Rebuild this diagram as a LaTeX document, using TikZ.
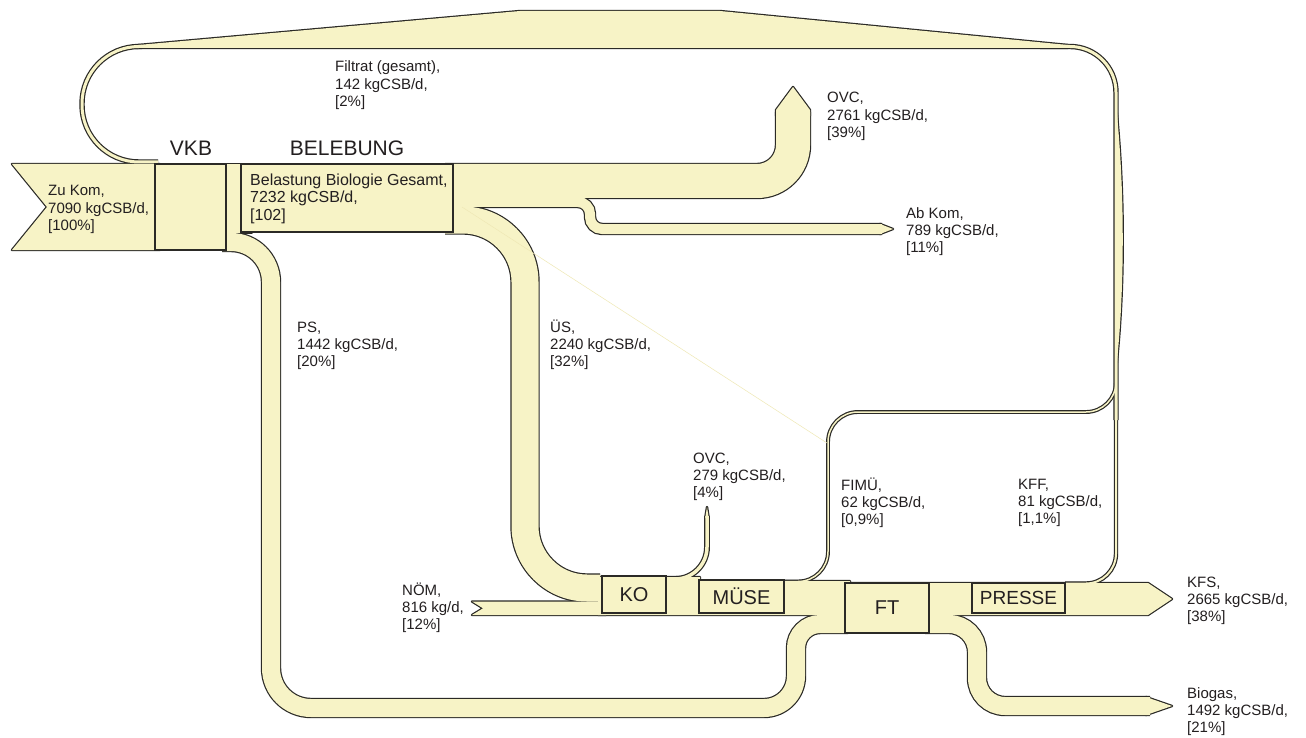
\documentclass[tikz,border=0pt]{standalone}
\usepackage{fontspec}
\setmainfont{Liberation Sans}
\usepackage{tikz}
\usetikzlibrary{positioning}
\definecolor{flowyellow}{HTML}{F7F3C6}
\definecolor{flowedge}{HTML}{2B2A26}
\definecolor{labelgray}{HTML}{231F20}
\definecolor{faintline}{HTML}{EFE8B5}

% all flow bands, drawn twice: once as border, once as fill
\newcommand{\sankeyflows}{%
  \path[area] (12,164) -- (160,164) -- (160,250) -- (12,250) -- (47,207) -- cycle;
  \path[area] (218,164) rectangle (252,233);
  \path[area] (1068,48) -- (1068,45) -- (720,11) -- (520,11) -- (138,45) -- (138,48) -- cycle;
  \path[band=3] (158,162) [rounded corners=57] -- (82,162) -- (82,46.5) -- (142,46.5);
  \path[band=3] (1040,46.5) [rounded corners=46] -- (1116,46.5) -- (1116,420);
  \path[area] (1116,105) .. controls (1125,190) and (1125,290) .. (1116,370) -- cycle;
  \path[band=34] (445,181) [rounded corners=36] -- (793,181) -- (793,112);
  \path[area] (776,116) -- (776,110) -- (793,87) -- (810,110) -- (810,116) -- cycle;
  \path[band=10] (445,202) [rounded corners=12] -- (590,202) -- (590,229) -- (882,229);
  \path[area] (880,224) -- (893,229) -- (880,234) -- cycle;
  \path[band=27] (445,220) [rounded corners=62] -- (525,220) -- (525,588) -- (600,588);
  \path[band=18] (222,242) [rounded corners=40] -- (271,242) -- (271,708) [rounded corners=32] -- (796,708) [rounded corners=24] -- (796,624) -- (848,624);
  \path[area] (472,601.5) -- (606,601.5) -- (606,615) -- (472,615) -- (483,608.3) -- cycle;
  \path[area] (598,577) -- (700,577) -- (700,581) -- (850,581) -- (850,583) -- (1148,583) -- (1172,599) -- (1148,615) -- (598,615) -- cycle;
  \path[band=3.5] (660,579) [rounded corners=32] -- (707,579) -- (707,516);
  \path[area] (705.2,518) -- (707,507) -- (708.8,518) -- cycle;
  \path[band=1.5] (784,581.5) [rounded corners=30] -- (828,581.5) -- (828,412) -- (1116,412) -- (1116,380);
  \path[band=2] (1065,583.5) [rounded corners=30] -- (1116,583.5) -- (1116,400);
  \path[band=18] (925,624) [rounded corners=28] -- (977,624) -- (977,706) -- (1150,706);
  \path[area] (1146,697) -- (1172,706) -- (1146,715) -- cycle;
}

\begin{document}
\begin{tikzpicture}[x=1pt,y=-1pt,
  lbl/.style={anchor=base west,align=left,inner sep=0pt,text=labelgray,font=\fontsize{15}{17.3}\selectfont},
  unit/.style={draw=flowedge,fill=flowyellow,line width=1.3pt,inner sep=0pt,text=labelgray,font=\fontsize{20}{20}\selectfont},
  title/.style={inner sep=0pt,text=labelgray,font=\fontsize{21}{21}\selectfont}]
  \fill[white] (0,0) rectangle (1306,738);
  \useasboundingbox (0,0) rectangle (1306,738);

  \tikzset{band/.style={draw=flowedge,line width=#1pt+2.4pt},area/.style={draw=flowedge,line width=2.4pt,line join=round}}
  \sankeyflows
  \tikzset{band/.style={draw=flowyellow,line width=#1pt},area/.style={fill=flowyellow}}
  \sankeyflows
  \draw[faintline,line width=0.5pt] (462,207) -- (827,443);

  % Anlagenteile
  \node[unit,minimum width=71,minimum height=86] (vkb) at (190.5,207) {};
  \node[unit,minimum width=212,minimum height=68] (bel) at (347,198) {};
  \node[unit,minimum width=64,minimum height=37] (ko) at (634,594.5) {KO};
  \node[unit,minimum width=85,minimum height=33] (muese) at (741.5,596.5) {MÜSE};
  \node[unit,minimum width=84,minimum height=50] (ft) at (887,608) {FT};
  \node[unit,minimum width=93,minimum height=30,font=\fontsize{19}{19}\selectfont] (presse) at (1018.5,598) {PRESSE};
  \node[title] (lblVKB) at (191,148) {VKB};
  \node[title] (lblBel) at (347,148) {BELEBUNG};
  \node[lbl,font=\fontsize{16}{17.5}\selectfont] (lblBelastung) at (250,220) {Belastung Biologie Gesamt,\\7232 kgCSB/d,\\{[102]}};

  % Stroeme (base = letzte Zeile)
  \node[lbl] (lblZuKom) at (48,230.6) {Zu Kom,\\7090 kgCSB/d,\\{[100\%]}};
  \node[lbl] (lblFiltrat) at (335,106.6) {Filtrat (gesamt),\\142 kgCSB/d,\\{[2\%]}};
  \node[lbl] (lblOvcBel) at (827,137.6) {OVC,\\2761 kgCSB/d,\\{[39\%]}};
  \node[lbl] (lblAbKom) at (906,252.6) {Ab Kom,\\789 kgCSB/d,\\{[11\%]}};
  \node[lbl] (lblPS) at (297,366.6) {PS,\\1442 kgCSB/d,\\{[20\%]}};
  \node[lbl] (lblUES) at (550,366.6) {ÜS,\\2240 kgCSB/d,\\{[32\%]}};
  \node[lbl] (lblOvcKo) at (693,497.6) {OVC,\\279 kgCSB/d,\\{[4\%]}};
  \node[lbl] (lblFimue) at (841,524.6) {FIMÜ,\\62 kgCSB/d,\\{[0,9\%]}};
  \node[lbl] (lblKFF) at (1018,523.6) {KFF,\\81 kgCSB/d,\\{[1,1\%]}};
  \node[lbl] (lblNoem) at (402,629.6) {NÖM,\\816 kg/d,\\{[12\%]}};
  \node[lbl] (lblKFS) at (1187,621.6) {KFS,\\2665 kgCSB/d,\\{[38\%]}};
  \node[lbl] (lblBiogas) at (1187,732.6) {Biogas,\\1492 kgCSB/d,\\{[21\%]}};
\end{tikzpicture}
\end{document}
